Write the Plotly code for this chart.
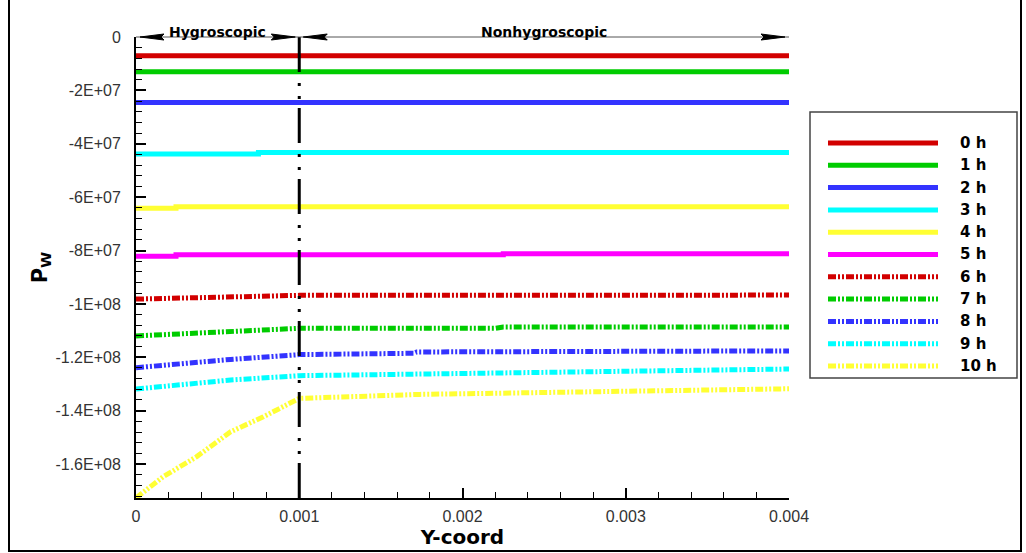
import plotly.graph_objects as go

# ---------------- data ----------------
series_names = ["0 h", "1 h", "2 h", "3 h", "4 h", "5 h", "6 h", "7 h", "8 h", "9 h", "10 h"]

x_0h = [0, 0.004]
y_0h = [-7.0e6, -7.0e6]
x_1h = [0, 0.004]
y_1h = [-1.30e7, -1.30e7]
x_2h = [0, 0.004]
y_2h = [-2.45e7, -2.45e7]
x_3h = [0, 0.00075, 0.004]
y_3h = [-4.38e7, -4.33e7, -4.33e7]
x_4h = [0, 0.000245, 0.004]
y_4h = [-6.42e7, -6.36e7, -6.36e7]
x_5h = [0, 0.000245, 0.00225, 0.004]
y_5h = [-8.21e7, -8.16e7, -8.12e7, -8.12e7]
x_6h = [0, 0.0003, 0.0006, 0.001, 0.004]
y_6h = [-9.82e7, -9.77e7, -9.73e7, -9.68e7, -9.67e7]
x_7h = [0, 0.0006, 0.001, 0.0022, 0.00225, 0.004]
y_7h = [-1.120e8, -1.104e8, -1.0915e8, -1.0915e8, -1.0865e8, -1.0865e8]
x_8h = [0, 0.00037, 0.00058, 0.001, 0.0017, 0.00172, 0.0027, 0.00272, 0.004]
y_8h = [-1.239e8, -1.217e8, -1.208e8, -1.190e8, -1.185e8, -1.180e8, -1.180e8, -1.176e8, -1.176e8]
x_9h = [0, 0.00058, 0.001, 0.0016, 0.0018, 0.0027, 0.0032, 0.004]
y_9h = [-1.319e8, -1.285e8, -1.269e8, -1.264e8, -1.260e8, -1.2515e8, -1.2475e8, -1.244e8]
x_10h = [0, 0.000165, 0.00037, 0.00058, 0.00078, 0.001, 0.00174, 0.00223, 0.00284, 0.004]
y_10h = [-1.727e8, -1.648e8, -1.573e8, -1.479e8, -1.423e8, -1.354e8, -1.339e8, -1.335e8, -1.329e8, -1.318e8]

x_tickvals = [0, 0.001, 0.002, 0.003, 0.004]
x_ticktext = ["0", "0.001", "0.002", "0.003", "0.004"]
y_tickvals = [0, -2e7, -4e7, -6e7, -8e7, -1e8, -1.2e8, -1.4e8, -1.6e8]
y_ticktext = ["0", "-2E+07", "-4E+07", "-6E+07", "-8E+07", "-1E+08", "-1.2E+08", "-1.4E+08", "-1.6E+08"]

zone_edges = [0, 0.001, 0.004]
zone_labels = ["Hygroscopic", "Nonhygroscopic"]

# ---------------- styles ----------------
colors = ["#d20000", "#00cc00", "#3333ff", "#00ffff", "#ffff33", "#ff00ff",
          "#d20000", "#00cc00", "#3333ff", "#00ffff", "#ffff33"]
ddd = "8px,2px,2px,2px,2px,2px"
dashes = ["solid"] * 6 + [ddd] * 5
shapes_ = ["hv"] * 6 + ["linear"] * 5

xs = [x_0h, x_1h, x_2h, x_3h, x_4h, x_5h, x_6h, x_7h, x_8h, x_9h, x_10h]
ys = [y_0h, y_1h, y_2h, y_3h, y_4h, y_5h, y_6h, y_7h, y_8h, y_9h, y_10h]

fig = go.Figure()
for name, x, y, c, d, s in zip(series_names, xs, ys, colors, dashes, shapes_):
    fig.add_trace(go.Scatter(x=x, y=y, mode="lines", name=name,
                             line=dict(color=c, width=5, dash=d, shape=s),
                             showlegend=False))

W, H = 1026, 553
L, R, T, B = 136, 237, 37, 55
pw, ph = W - L - R, H - T - B
XMAX = 0.004


def px(xp):
    return (xp - L) / pw


def py(yp):
    return (H - B - yp) / ph


def data_to_px(xv):
    return L + xv / XMAX * pw


tick_font = dict(family="Liberation Sans, Arial", size=16, color="#333333")

fig.update_layout(
    width=W, height=H,
    margin=dict(l=L, r=R, t=T, b=B, pad=0),
    plot_bgcolor="white", paper_bgcolor="white",
    xaxis=dict(range=[0, XMAX], tickvals=x_tickvals, ticktext=x_ticktext,
               ticks="inside", ticklen=10, tickwidth=1.5, tickcolor="black",
               showline=True, linecolor="black", linewidth=2, showgrid=False,
               zeroline=False, tickfont=tick_font, ticklabelstandoff=3,
               minor=dict(dtick=0.0002, ticks="inside", ticklen=6, tickcolor="black", tickwidth=1),
               title=dict(text="<b>Y-coord</b>", font=dict(family="DejaVu Sans", size=20, color="black"),
                          standoff=2)),
    yaxis=dict(range=[-1.7272e8, 0], tickvals=y_tickvals, ticktext=y_ticktext,
               ticks="inside", ticklen=10, tickwidth=1.5, tickcolor="black",
               showline=True, linecolor="black", linewidth=2, showgrid=False,
               zeroline=False, tickfont=tick_font, ticklabelstandoff=10,
               minor=dict(dtick=4e6, tick0=0, ticks="inside", ticklen=6, tickcolor="black", tickwidth=1),
               title=dict(text="<b>P<sub>W</sub></b>", font=dict(family="DejaVu Sans", size=21, color="black"),
                          standoff=2)),
)

shapes = []
# outer frame
shapes.append(dict(type="rect", xref="paper", yref="paper",
                   x0=px(9), x1=px(1021), y0=py(551), y1=py(-3),
                   line=dict(color="black", width=2), fillcolor="rgba(0,0,0,0)"))
# zone boundary
shapes.append(dict(type="line", xref="x", yref="paper", x0=zone_edges[1], x1=zone_edges[1],
                   y0=0, y1=py(29), line=dict(color="black", width=3, dash="35px,9px,3px,10px,3px,11px")))
# legend box
shapes.append(dict(type="rect", xref="paper", yref="paper",
                   x0=px(810), x1=px(1017), y0=py(378), y1=py(112),
                   line=dict(color="#444444", width=1.5), fillcolor="white"))

annotations = []
for i, (name, c, d) in enumerate(zip(series_names, colors, dashes)):
    yy = py(143 + i * 22.3)
    shapes.append(dict(type="line", xref="paper", yref="paper",
                       x0=px(828), x1=px(938), y0=yy, y1=yy,
                       line=dict(color=c, width=5, dash=d)))
    annotations.append(dict(xref="paper", yref="paper", x=px(958), y=yy, xanchor="left",
                            yanchor="middle", showarrow=False, text="<b>" + name + "</b>",
                            font=dict(family="DejaVu Sans", size=15, color="black")))

# zone arrows (shaft + arrowheads), labels
ARROW_Y = 37
HEAD_LEN, HEAD_HALF = 24, 3
for a, b, lab in zip(zone_edges[:-1], zone_edges[1:], zone_labels):
    shapes.append(dict(type="line", xref="x", yref="paper", x0=a, x1=b, y0=py(ARROW_Y), y1=py(ARROW_Y),
                       line=dict(color="#555555", width=1)))
    pa, pb = data_to_px(a) + 4, data_to_px(b) - 4
    for tip, direction in ((pa, 1), (pb, -1)):
        base = tip + direction * HEAD_LEN
        path = (f"M {px(tip)},{py(ARROW_Y)} L {px(base)},{py(ARROW_Y - HEAD_HALF)} "
                f"L {px(base - direction * 3)},{py(ARROW_Y)} L {px(base)},{py(ARROW_Y + HEAD_HALF)} Z")
        shapes.append(dict(type="path", xref="paper", yref="paper", path=path,
                           fillcolor="black", line=dict(color="black", width=1)))
    annotations.append(dict(x=(a + b) / 2, y=py(22), xref="x", yref="paper", showarrow=False,
                            text="<b>" + lab + "</b>",
                            font=dict(family="DejaVu Sans", size=14, color="black")))

fig.update_layout(shapes=shapes, annotations=annotations)
fig.write_html("out.html")
